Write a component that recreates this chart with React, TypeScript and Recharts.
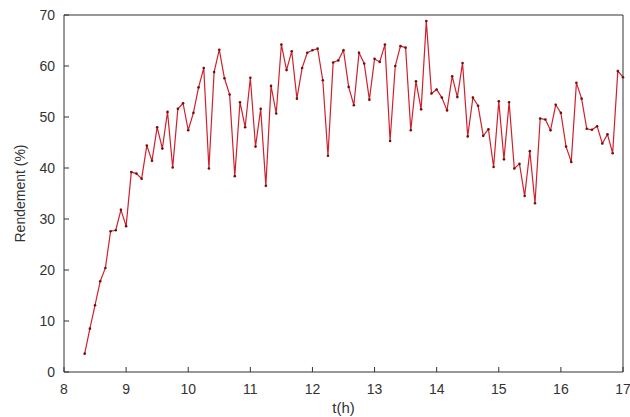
import * as React from 'react';
import {
	Label,
	Line,
	LineChart,
	XAxis,
	YAxis,
} from 'recharts';

// clock times of the measurements (every 5 min)
const times = [
	'8:20', '8:25', '8:30', '8:35', '8:40', '8:45', '8:50', '8:55',
	'9:00', '9:05', '9:10', '9:15', '9:20', '9:25', '9:30', '9:35', '9:40', '9:45', '9:50', '9:55',
	'10:00', '10:05', '10:10', '10:15', '10:20', '10:25', '10:30', '10:35', '10:40', '10:45', '10:50', '10:55',
	'11:00', '11:05', '11:10', '11:15', '11:20', '11:25', '11:30', '11:35', '11:40', '11:45', '11:50', '11:55',
	'12:00', '12:05', '12:10', '12:15', '12:20', '12:25', '12:30', '12:35', '12:40', '12:45', '12:50', '12:55',
	'13:00', '13:05', '13:10', '13:15', '13:20', '13:25', '13:30', '13:35', '13:40', '13:45', '13:50', '13:55',
	'14:00', '14:05', '14:10', '14:15', '14:20', '14:25', '14:30', '14:35', '14:40', '14:45', '14:50', '14:55',
	'15:00', '15:05', '15:10', '15:15', '15:20', '15:25', '15:30', '15:35', '15:40', '15:45', '15:50', '15:55',
	'16:00', '16:05', '16:10', '16:15', '16:20', '16:25', '16:30', '16:35', '16:40', '16:45', '16:50', '16:55',
	'17:00',
];

// rendement (%)
const rendement = [
	3.6, 8.5, 13.1, 17.8, 20.4, 27.6, 27.8, 31.8, 28.6, 39.2, 38.9, 37.9, 44.4, 41.4,
	48.0, 43.8, 51.0, 40.1, 51.6, 52.7, 47.4, 50.8, 55.8, 59.6, 39.9, 58.8, 63.2,
	57.6, 54.4, 38.4, 52.9, 48.0, 57.7, 44.2, 51.6, 36.5, 56.1, 50.7, 64.2, 59.2,
	62.9, 53.6, 59.6, 62.6, 63.1, 63.4, 57.2, 42.4, 60.7, 61.1, 63.1, 55.9, 52.3, 62.6,
	60.5, 53.4, 61.4, 60.8, 64.2, 45.3, 60.0, 63.9, 63.6, 47.4, 57.0, 51.5, 68.8,
	54.6, 55.4, 53.8, 51.3, 58.0, 53.9, 60.6, 46.2, 53.8, 52.2, 46.3, 47.6,
	40.2, 53.1, 41.7, 52.9, 39.9, 40.8, 34.5, 43.3, 33.1, 49.7, 49.5, 47.4, 52.4,
	50.8, 44.2, 41.2, 56.7, 53.6, 47.7, 47.5, 48.2, 44.8, 46.6, 42.9, 59.0, 57.8,
];

const xTicks = [8, 9, 10, 11, 12, 13, 14, 15, 16, 17];
const yTicks = [0, 10, 20, 30, 40, 50, 60, 70];

const axisColor = '#333';
const font = '"Liberation Sans", Arial, sans-serif';
const tickStyle = {fill: '#333', fontSize: 14, fontFamily: font};

function toHours(s: string) {
	const [h, m] = s.split(':').map(Number);
	return h + m / 60;
}

const data = times.map((t, i) => ({t: toHours(t), r: rendement[i]}));

export default
function App() {
	return (
		<div style={{position: 'absolute', left: 0, top: 0, background: '#fff'}}>
			<LineChart
				width={630}
				height={417}
				data={data}
				margin={{top: 0, right: 0, bottom: 0, left: 0}}
			>
				<XAxis
					dataKey="t"
					type="number"
					domain={[8, 17]}
					ticks={xTicks}
					interval={0}
					height={45}
					tickSize={-5}
					tickMargin={17}
					stroke={axisColor}
					tick={tickStyle}
				>
					<Label
						content={({viewBox}: any) => (
							<text
								x={viewBox.x + viewBox.width / 2}
								y={viewBox.y + 41}
								textAnchor="middle"
								fill="#333"
								fontSize={15}
								fontFamily={font}
							>
								t(h)
							</text>
						)}
					/>
				</XAxis>
				<XAxis
					xAxisId="top"
					orientation="top"
					dataKey="t"
					type="number"
					domain={[8, 17]}
					ticks={xTicks}
					interval={0}
					height={15}
					tickSize={-5}
					stroke={axisColor}
					tick={false}
				/>
				<YAxis
					domain={[0, 70]}
					ticks={yTicks}
					interval={0}
					width={64}
					tickSize={-5}
					tickMargin={14}
					stroke={axisColor}
					tick={tickStyle}
				>
					<Label
						content={({viewBox}: any) => {
							const cx = viewBox.x + 20;
							const cy = viewBox.y + viewBox.height / 2;
							return (
								<text
									x={cx}
									y={cy}
									transform={`rotate(-90, ${cx}, ${cy})`}
									textAnchor="middle"
									dominantBaseline="central"
									fill="#333"
									fontSize={14}
									fontFamily={font}
								>
									Rendement (%)
								</text>
							);
						}}
					/>
				</YAxis>
				<YAxis
					yAxisId="right"
					orientation="right"
					domain={[0, 70]}
					ticks={yTicks}
					interval={0}
					width={7}
					tickSize={-5}
					stroke={axisColor}
					tick={false}
				/>
				<Line
					dataKey="r"
					type="linear"
					stroke="#d0202c"
					strokeWidth={1.2}
					dot={{r: 1.3, fill: '#701010', stroke: 'none'}}
					activeDot={false}
					isAnimationActive={false}
				/>
			</LineChart>
		</div>
	);
}
